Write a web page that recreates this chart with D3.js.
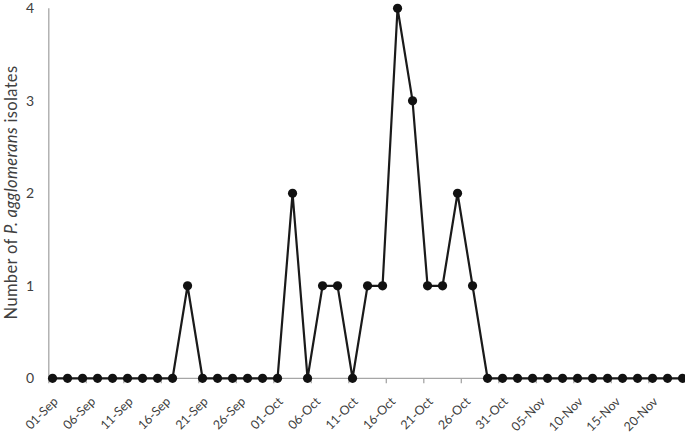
<!DOCTYPE html>
<html><head><meta charset="utf-8">
<script src="https://cdn.jsdelivr.net/npm/d3@7"></script>
<style>body{margin:0;background:#fff}svg{display:block}</style>
</head><body>
<script>
// Sampling dates (every 2 days from 01-Sep to 24-Nov)
const dates = ["01-Sep","03-Sep","05-Sep","07-Sep","09-Sep","11-Sep","13-Sep","15-Sep","17-Sep","19-Sep",
"21-Sep","23-Sep","25-Sep","27-Sep","29-Sep","01-Oct","03-Oct","05-Oct","07-Oct","09-Oct",
"11-Oct","13-Oct","15-Oct","17-Oct","19-Oct","21-Oct","23-Oct","25-Oct","27-Oct","29-Oct",
"31-Oct","02-Nov","04-Nov","06-Nov","08-Nov","10-Nov","12-Nov","14-Nov","16-Nov","18-Nov",
"20-Nov","22-Nov","24-Nov"];
const isolates = [0,0,0,0,0,0,0,0,0,1,
0,0,0,0,0,0,2,0,1,1,
0,1,1,4,3,1,1,2,1,0,
0,0,0,0,0,0,0,0,0,0,
0,0,0];
const tickLabels = ["01-Sep","06-Sep","11-Sep","16-Sep","21-Sep","26-Sep","01-Oct","06-Oct","11-Oct","16-Oct","21-Oct","26-Oct","31-Oct","05-Nov","10-Nov","15-Nov","20-Nov"];
const yTicks = [0,1,2,3,4];

const W = 685, H = 433;
const font = "Lato, 'Open Sans', sans-serif";
const svg = d3.select("body").append("svg").attr("width", W).attr("height", H);

const parse = d3.timeParse("%d-%b-%Y");
const toDate = s => parse(s + "-2000");
const t0 = toDate(dates[0]);
const dayOf = s => Math.round((toDate(s) - t0) / 864e5);

const x = d3.scaleLinear().domain([-0.5, 84.5]).range([48.8, 686.3]);
const y = d3.scaleLinear().domain([0, 4]).range([378.3, 8.3]);

// y-axis line
svg.append("line").attr("x1", x(-0.5)).attr("x2", x(-0.5)).attr("y1", y(4)).attr("y2", y(0))
  .attr("stroke", "#a6a6a6").attr("stroke-width", 1.3);
// y labels
svg.selectAll("text.yl").data(yTicks).join("text").attr("class","yl")
  .attr("x", 34).attr("y", d => y(d)).attr("dy", "0.36em").attr("text-anchor", "end")
  .attr("font-family", font).attr("font-size", 14).attr("fill", "#404040").text(d => d);

// x axis line
svg.append("line").attr("x1", x(-0.5)).attr("x2", x(84.5)).attr("y1", y(0)).attr("y2", y(0))
  .attr("stroke", "#a6a6a6").attr("stroke-width", 1.3);
// x tick marks
svg.selectAll("line.xt").data(tickLabels).join("line").attr("class","xt")
  .attr("x1", d => x(dayOf(d) - 0.5)).attr("x2", d => x(dayOf(d) - 0.5))
  .attr("y1", y(0)).attr("y2", y(0) + 5).attr("stroke", "#a6a6a6").attr("stroke-width", 1.3);
// x labels
svg.selectAll("text.xl").data(tickLabels).join("text").attr("class","xl")
  .attr("transform", d => `translate(${x(dayOf(d)) + 3},${y(0) + 21}) rotate(-45)`)
  .attr("text-anchor", "end").attr("dy", "0.35em")
  .attr("font-family", font).attr("font-size", 12.5).attr("fill", "#404040").text(d => d);

// y title
const yt = svg.append("text").attr("transform", "translate(16.5,192.5) rotate(-90)")
  .attr("text-anchor", "middle").attr("font-family", font).attr("font-size", 16.5).attr("fill", "#404040")
  .attr("letter-spacing", 0.35);
yt.append("tspan").text("Number of ");
yt.append("tspan").attr("font-style", "italic").text("P. agglomerans");
yt.append("tspan").text(" isolates");

// line
const pts = dates.map((d, i) => ({day: dayOf(d), v: isolates[i]}));
svg.append("path").datum(pts)
  .attr("d", d3.line().x(d => x(d.day)).y(d => y(d.v)))
  .attr("fill", "none").attr("stroke", "#1a1a1a").attr("stroke-width", 2.2);
svg.selectAll("circle").data(pts).join("circle")
  .attr("cx", d => x(d.day)).attr("cy", d => y(d.v)).attr("r", 4.6).attr("fill", "#111");
</script>
</body></html>
